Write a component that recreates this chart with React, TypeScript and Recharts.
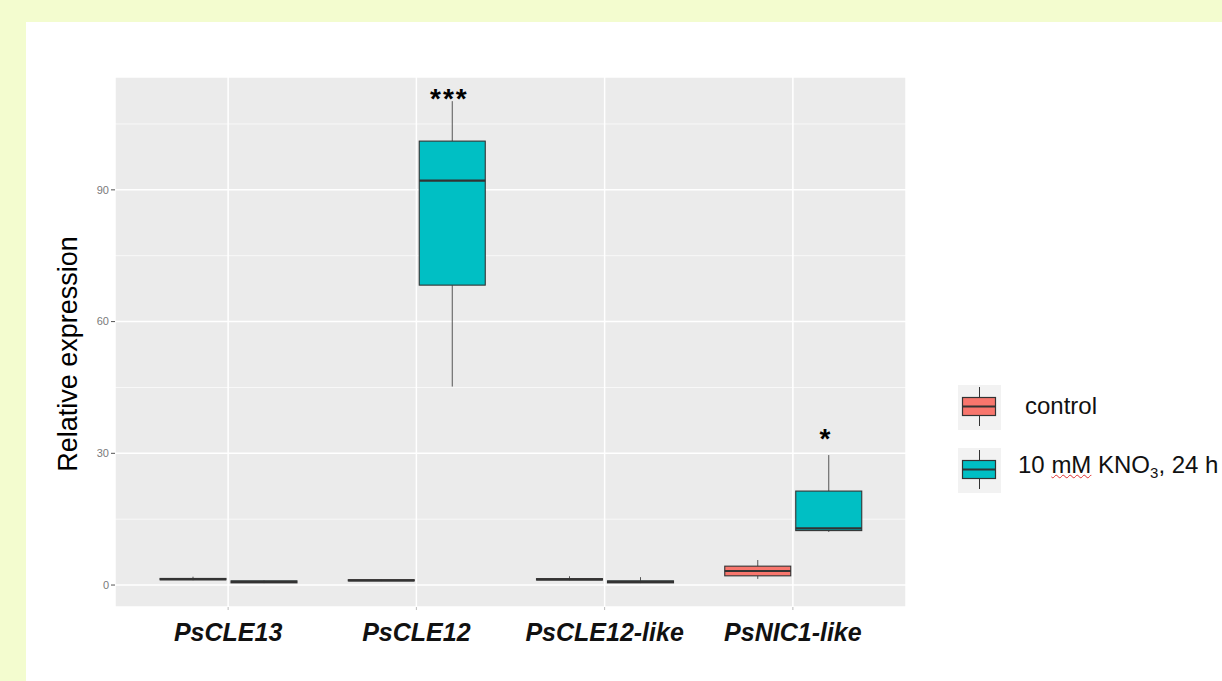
import React from 'react';
import {
  ComposedChart,
  Bar,
  Scatter,
  XAxis,
  YAxis,
  CartesianGrid,
  Label,
} from 'recharts';

// genes on the x axis
const genes = ['PsCLE13', 'PsCLE12', 'PsCLE12-like', 'PsNIC1-like'];

// control boxplots: lower whisker, Q1, median, Q3, upper whisker
const controlMin = [1.1, 0.9, 1.1, 1.4];
const controlQ1 = [1.2, 0.95, 1.15, 2.1];
const controlMedian = [1.35, 1.07, 1.3, 3.2];
const controlQ3 = [1.5, 1.2, 1.45, 4.3];
const controlMax = [1.9, 1.3, 2.0, 5.7];

// 10 mM KNO3, 24 h boxplots
const nitrateMin = [0.45, 45.2, 0.45, 12.1];
const nitrateQ1 = [0.5, 68.3, 0.5, 12.4];
const nitrateMedian = [0.7, 92.1, 0.7, 12.9];
const nitrateQ3 = [0.95, 101.1, 0.95, 21.4];
const nitrateMax = [1.05, 110.2, 1.8, 29.6];

// significance marks above the nitrate boxes
const sigLabel = ['', '***', '', '*'];
const sigY = [null, 112.3, null, 34.9];

const yDomain = [-5, 115.7];
const yTicks = [0, 30, 60, 90];
const yMinor = [15, 45, 75, 105];

const FONT = '"Liberation Sans", Arial, Helvetica, sans-serif';
const RED = '#F8766D';
const TEAL = '#00BFC4';
const OUTLINE = '#333333';

const data = genes.map((name, i) => ({
  name,
  cMin: controlMin[i],
  cQ1: controlQ1[i],
  cMed: controlMedian[i],
  cQ3: controlQ3[i],
  cMax: controlMax[i],
  nMin: nitrateMin[i],
  nQ1: nitrateQ1[i],
  nMed: nitrateMedian[i],
  nQ3: nitrateQ3[i],
  nMax: nitrateMax[i],
  sigLabel: sigLabel[i],
  sigY: sigY[i],
}));

type Keys = [string, string, string, string, string];

const makeBox = (fill: string, keys: Keys) => (props: any) => {
  const { x, y, width, height, payload } = props;
  if (!payload) return <g />;
  const [lo, q1, med, q3, hi] = keys.map((k) => payload[k] as number);
  const top = Math.min(y, y + height);
  const h = Math.abs(height);
  const k = h / (hi - lo);
  const py = (v: number) => top + (hi - v) * k;
  const cx = x + width / 2;
  return (
    <g>
      <line x1={cx} x2={cx} y1={py(hi)} y2={py(q3)} stroke="#555" strokeWidth={1} />
      <line x1={cx} x2={cx} y1={py(q1)} y2={py(lo)} stroke="#555" strokeWidth={1} />
      <rect
        x={x}
        y={py(q3)}
        width={width}
        height={Math.max(py(q1) - py(q3), 0.5)}
        fill={fill}
        stroke={OUTLINE}
        strokeWidth={1.1}
      />
      <line x1={x} x2={x + width} y1={py(med)} y2={py(med)} stroke={OUTLINE} strokeWidth={2.2} />
    </g>
  );
};

const SigMark = (props: any) => {
  const { cx, cy, payload } = props;
  if (!payload || !payload.sigLabel || cy == null || isNaN(cy)) return <g />;
  return (
    <text
      x={cx + 33}
      y={cy + 16}
      textAnchor="middle"
      fontFamily={FONT}
      fontWeight="bold"
      fontSize={28}
      letterSpacing={2}
      fill="#000"
    >
      {payload.sigLabel}
    </text>
  );
};

const GeneTick = (props: any) => {
  const { x, y, payload } = props;
  return (
    <text
      x={x}
      y={y}
      dy={29}
      textAnchor="middle"
      fontFamily={FONT}
      fontWeight="bold"
      fontStyle="italic"
      fontSize={25}
      fill="#111"
    >
      {payload.value}
    </text>
  );
};

function LegendKey({ fill }: { fill: string }) {
  return (
    <svg width={43} height={45} style={{ display: 'block' }}>
      <rect x={0} y={0} width={43} height={45} fill="#F2F2F2" />
      <line x1={21.5} x2={21.5} y1={2} y2={41} stroke={OUTLINE} strokeWidth={1} />
      <rect x={4.5} y={12.5} width={33} height={18} fill={fill} stroke={OUTLINE} strokeWidth={1.2} />
      <line x1={4.5} x2={37.5} y1={21.5} y2={21.5} stroke={OUTLINE} strokeWidth={2} />
    </svg>
  );
}

// minor gridlines between the major y ticks, mapped with the plot offset
const minorLines = (p: any) => {
  const off = p && p.offset;
  if (!off) return [];
  const [lo, hi] = yDomain;
  return yMinor.map((v) => off.top + ((hi - v) / (hi - lo)) * off.height);
};

export default function App() {
  return (
    <div
      style={{
        position: 'absolute',
        left: 0,
        top: 0,
        width: 1222,
        height: 681,
        background: '#F3FCCF',
        overflow: 'hidden',
        fontFamily: FONT,
      }}
    >
      <div
        style={{
          position: 'absolute',
          left: 26,
          top: 22,
          width: 1196,
          height: 659,
          background: '#FFFFFF',
        }}
      />
      <div style={{ position: 'absolute', left: 0, top: 0 }}>
        <ComposedChart
          width={1222}
          height={681}
          data={data}
          margin={{ top: 77, right: 316, bottom: 34, left: 85 }}
          barGap={5}
        >
          <CartesianGrid fill="#EBEBEB" stroke="#FFFFFF" strokeWidth={1.5} />
          <CartesianGrid
            vertical={false}
            stroke="#FFFFFF"
            strokeWidth={0.7}
            horizontalCoordinatesGenerator={minorLines}
          />
          <XAxis
            dataKey="name"
            type="category"
            padding={{ left: 19, right: 19 }}
            axisLine={false}
            tickLine={{ stroke: '#BBBBBB' }}
            tickSize={3}
            height={40}
            interval={0}
            tick={<GeneTick />}
          />
          <YAxis
            type="number"
            domain={yDomain}
            ticks={yTicks}
            allowDataOverflow
            width={30}
            axisLine={false}
            tickLine={{ stroke: '#555555' }}
            tickSize={4}
            tick={{ fill: '#7A7A7A', fontSize: 11, fontFamily: FONT }}
          >
            <Label
              content={(p: any) => {
                const vb = p.viewBox || { x: 85, y: 77, width: 30, height: 530 };
                return (
                  <text
                    transform={`translate(${vb.x - 17}, ${vb.y + vb.height / 2 + 12}) rotate(-90)`}
                    textAnchor="middle"
                    dominantBaseline="central"
                    fontFamily={FONT}
                    fontSize={27}
                    fill="#000"
                  >
                    Relative expression
                  </text>
                );
              }}
            />
          </YAxis>
          <Bar
            dataKey={(d: any) => [d.cMin, d.cMax]}
            barSize={66}
            isAnimationActive={false}
            shape={makeBox(RED, ['cMin', 'cQ1', 'cMed', 'cQ3', 'cMax'])}
          />
          <Bar
            dataKey={(d: any) => [d.nMin, d.nMax]}
            barSize={66}
            isAnimationActive={false}
            shape={makeBox(TEAL, ['nMin', 'nQ1', 'nMed', 'nQ3', 'nMax'])}
          />
          <Scatter dataKey="sigY" isAnimationActive={false} shape={<SigMark />} />
        </ComposedChart>
      </div>

      <div style={{ position: 'absolute', left: 958, top: 385 }}>
        <LegendKey fill={RED} />
      </div>
      <div
        style={{
          position: 'absolute',
          left: 1025,
          top: 391,
          fontSize: 24,
          lineHeight: '30px',
          color: '#111',
          whiteSpace: 'nowrap',
        }}
      >
        control
      </div>

      <div style={{ position: 'absolute', left: 958, top: 448 }}>
        <LegendKey fill={TEAL} />
      </div>
      <div
        style={{
          position: 'absolute',
          left: 1018,
          top: 450,
          fontSize: 24,
          lineHeight: '30px',
          color: '#111',
          whiteSpace: 'nowrap',
        }}
      >
        10{' '}
        <span
          style={{
            textDecorationLine: 'underline',
            textDecorationStyle: 'wavy',
            textDecorationColor: '#E03030',
            textDecorationThickness: '1px',
          }}
        >
          mM
        </span>{' '}
        KNO<sub style={{ fontSize: 15, verticalAlign: '-5px' }}>3</sub>, 24 h
      </div>
    </div>
  );
}
